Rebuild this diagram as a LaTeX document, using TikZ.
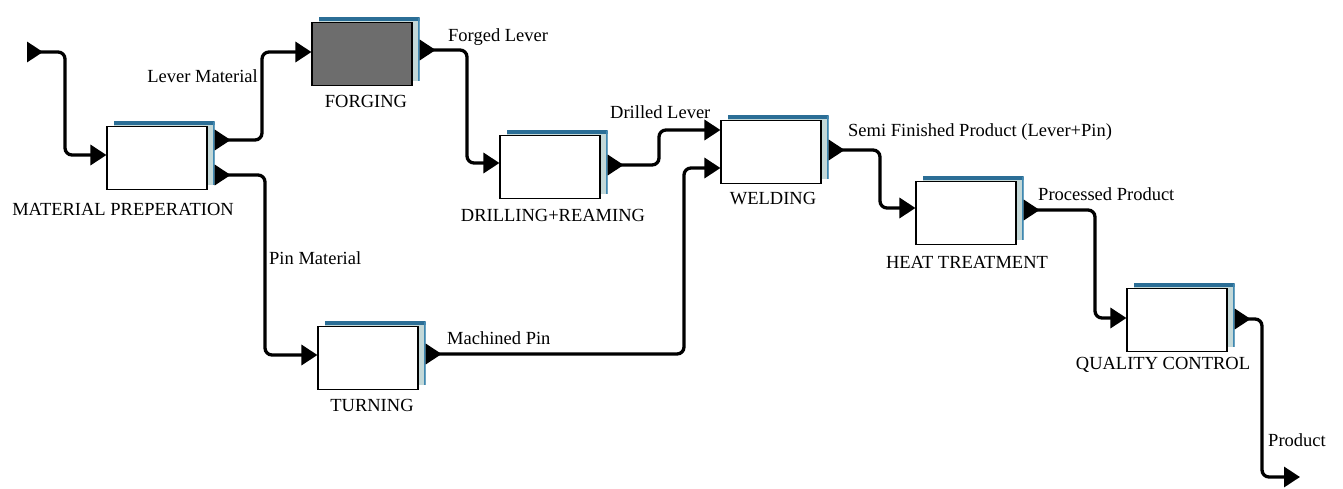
\documentclass[tikz,border=0pt]{standalone}
\usepackage{fontspec}
\setmainfont{Liberation Serif}
\usetikzlibrary{arrows.meta, positioning, calc, backgrounds}
\definecolor{shadefill}{HTML}{C3D8D8}
\definecolor{shadetop}{HTML}{2B6E96}
\definecolor{shadeside}{HTML}{3F88B2}
\definecolor{forgegray}{HTML}{6D6D6D}
\tikzset{
	procbox/.style={draw, line width=1.1pt, fill=#1, minimum width=100pt, minimum height=63pt, inner sep=0pt},
	procbox/.default=white,
	backbox/.style={fill=shadefill, minimum width=101pt, minimum height=63pt, inner sep=0pt,
		path picture={
			\draw[shadetop, line width=6pt] (path picture bounding box.north west) -- (path picture bounding box.north east);
			\draw[shadeside, line width=3pt] (path picture bounding box.north east) -- (path picture bounding box.south east);}},
	proclabel/.style={font=\fontsize{18.5}{21}\selectfont, inner sep=0pt},
	flowlabel/.style={font=\fontsize{18.5}{21}\selectfont, inner sep=0pt},
	flowarr/.style={{Triangle[reversed, length=16pt, width=20pt]}-{Triangle[length=16pt, width=20pt]}, line width=3.3pt, rounded corners=7pt},
}

\begin{document}
\begin{tikzpicture}[x=1pt, y=-1pt]
	\useasboundingbox (0,0) rectangle (1343,488);
	% process boxes
	\node[procbox] (mp) at (157,158) {};
	\node[procbox=forgegray] (forge) at (362,54) {};
	\node[procbox] (drill) at (550,167) {};
	\node[procbox] (weld) at (771,152) {};
	\node[procbox] (turn) at (368,358) {};
	\node[procbox] (heat) at (966,213) {};
	\node[procbox] (qc) at (1177,320) {};
	\begin{pgfonlayer}{background}
		\foreach \n in {mp,forge,drill,weld,turn,heat,qc}
			\node[backbox] (\n-b) at ([shift={(7,-5)}]\n.center) {};
	\end{pgfonlayer}
	% box names
	\node[proclabel] (mp-t) at (123,209) {MATERIAL PREPERATION};
	\node[proclabel] (forge-t) at (366,101) {FORGING};
	\node[proclabel] (drill-t) at (553,215) {DRILLING+REAMING};
	\node[proclabel] (weld-t) at (773,199) {WELDING};
	\node[proclabel] (turn-t) at (372,405) {TURNING};
	\node[proclabel] (heat-t) at (967,262) {HEAT TREATMENT};
	\node[proclabel] (qc-t) at (1163,365) {QUALITY CONTROL};
	% flows
	\coordinate (src) at (27,52);
	\coordinate (sink) at (1300,477);
	\draw[flowarr] (src) -- (65,52) -- (65,155) -- (mp.west |- 0,155);
	\draw[flowarr] (mp-b.east |- 0,140) -- (262,140) -- (262,52) -- (forge.west |- 0,52);
	\draw[flowarr] (mp-b.east |- 0,175) -- (265,175) -- (265,355) -- (turn.west |- 0,355);
	\draw[flowarr] (forge-b.east |- 0,50) -- (467,50) -- (467,163) -- (drill.west |- 0,163);
	\draw[flowarr] (drill-b.east |- 0,165) -- (659,165) -- (659,130) -- (weld.west |- 0,130);
	\draw[flowarr] (turn-b.east |- 0,354) -- (684,354) -- (684,168) -- (weld.west |- 0,168);
	\draw[flowarr] (weld-b.east |- 0,150) -- (880,150) -- (880,208) -- (heat.west |- 0,208);
	\draw[flowarr] (heat-b.east |- 0,210) -- (1095,210) -- (1095,318) -- (qc.west |- 0,318);
	\draw[flowarr] (qc-b.east |- 0,319) -- (1262,319) -- (1262,477) -- (sink);
	% flow names
	\node[flowlabel, anchor=east] (lever) at (258,76) {Lever Material};
	\node[flowlabel, anchor=west] (pin) at (269,258) {Pin Material};
	\node[flowlabel, anchor=west] (forged) at (448,37) {Forged Lever};
	\node[flowlabel, anchor=west] (drilled) at (610,112) {Drilled Lever};
	\node[flowlabel, anchor=west] (machined) at (447,338) {Machined Pin};
	\node[flowlabel, anchor=west] (semi) at (848,132) {Semi Finished Product (Lever+Pin)};
	\node[flowlabel, anchor=west] (processed) at (1038,194) {Processed Product};
	\node[flowlabel, anchor=west] (product) at (1268,440) {Product};
\end{tikzpicture}
\end{document}
